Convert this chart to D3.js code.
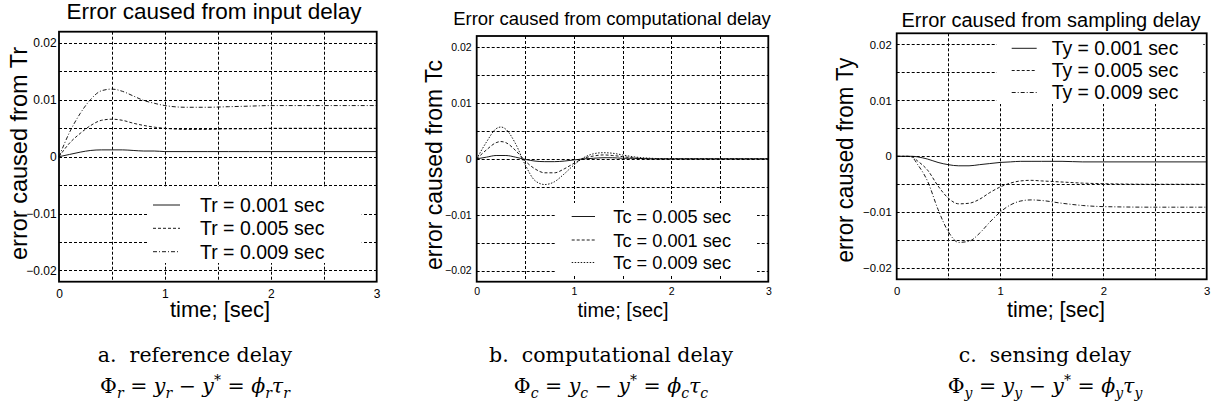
<!DOCTYPE html>
<html>
<head>
<meta charset="utf-8">
<script src="https://cdn.jsdelivr.net/npm/d3@7"></script>
<style>
  body { margin: 0; background: #fff; }
  svg { display: block; font-family: "Liberation Sans", Arial, sans-serif; }
</style>
</head>
<body>
<script>
// ---- data ----

// a. reference delay
var timeR = [0, 0.1, 0.2, 0.3, 0.4, 0.5, 0.6, 0.7, 0.8, 0.9, 1.0, 1.2, 1.4, 1.6, 1.8, 2.0, 2.5, 3.0];
var errTr001 = [0, 0.0004, 0.0008, 0.0011, 0.0012, 0.0012, 0.0012, 0.0011, 0.0010, 0.0010, 0.0009, 0.0009, 0.0009, 0.0009, 0.0009, 0.0009, 0.0009, 0.0009];
var errTr005 = [0, 0.0024, 0.0041, 0.0055, 0.0064, 0.0066, 0.0064, 0.0059, 0.0055, 0.0052, 0.0050, 0.0048, 0.0048, 0.0049, 0.0049, 0.0050, 0.0050, 0.0050];
var errTr009 = [0, 0.0043, 0.0076, 0.0101, 0.0116, 0.0119, 0.0115, 0.0107, 0.0099, 0.0094, 0.0090, 0.0087, 0.0087, 0.0088, 0.0089, 0.0090, 0.0090, 0.0090];
var legendR = ["Tr = 0.001 sec", "Tr = 0.005 sec", "Tr = 0.009 sec"];

// b. computational delay
var timeC = [0, 0.1, 0.2, 0.25, 0.3, 0.4, 0.5, 0.6, 0.7, 0.8, 0.9, 1.0, 1.1, 1.2, 1.3, 1.4, 1.5, 1.6, 1.8, 2.0, 3.0];
var errTcSmall = [0, 0.0003, 0.0006, 0.0006, 0.0006, 0.0003, -0.0001, -0.0004, -0.0005, -0.0005, -0.0004, -0.0002, 0, 0.0001, 0.0002, 0.0002, 0.0001, 0.0001, 0, 0, 0];
var errTcMid = [0, 0.0016, 0.0029, 0.0031, 0.0029, 0.0015, -0.0004, -0.0018, -0.0025, -0.0025, -0.0018, -0.0008, 0.0001, 0.0005, 0.0007, 0.0006, 0.0004, 0.0002, 0, 0, 0];
var errTcBig = [0, 0.0030, 0.0054, 0.0057, 0.0053, 0.0027, -0.0011, -0.0039, -0.0046, -0.0041, -0.0027, -0.0011, 0.0002, 0.0009, 0.0011, 0.0010, 0.0007, 0.0004, 0.0001, 0, 0];
var legendC = ["Tc = 0.005 sec", "Tc = 0.001 sec", "Tc = 0.009 sec"];

// c. sensing delay
var timeY = [0, 0.1, 0.15, 0.2, 0.3, 0.4, 0.5, 0.6, 0.7, 0.8, 0.9, 1.0, 1.1, 1.2, 1.3, 1.4, 1.6, 1.8, 2.0, 2.5, 3.0];
var errTy001 = [0, 0, 0, -0.0001, -0.0005, -0.0011, -0.0015, -0.0017, -0.0017, -0.0015, -0.0013, -0.0011, -0.0010, -0.0009, -0.0009, -0.0009, -0.0009, -0.0010, -0.0010, -0.0010, -0.0010];
var errTy005 = [0, 0, -0.0001, -0.0008, -0.0025, -0.0053, -0.0075, -0.0085, -0.0084, -0.0077, -0.0065, -0.0055, -0.0048, -0.0044, -0.0043, -0.0044, -0.0046, -0.0048, -0.0049, -0.0050, -0.0050];
var errTy009 = [0, 0, -0.0002, -0.0014, -0.0045, -0.0095, -0.0135, -0.0154, -0.0152, -0.0138, -0.0118, -0.0100, -0.0087, -0.0080, -0.0078, -0.0079, -0.0084, -0.0088, -0.0090, -0.0091, -0.0091];
var legendY = ["Ty = 0.001 sec", "Ty = 0.005 sec", "Ty = 0.009 sec"];

// axis ticks and grid
var yTickValues = [-0.02, -0.01, 0, 0.01, 0.02];
var yGridValues = [-0.02, -0.015, -0.01, -0.005, 0, 0.005, 0.01, 0.015, 0.02];
var xTickValues = [0, 1, 2, 3];
var xGridValues = [0.5, 1, 1.5, 2, 2.5];

// ---- layout ----
var width = 1225,
    height = 413;

var svg = d3.select("body")
    .append("svg")
    .attr("width", width)
    .attr("height", height);

svg.append("rect")
    .attr("width", width)
    .attr("height", height)
    .attr("fill", "#fff");

var panels = [
  {
    left: 59, right: 376.7, top: 31.7, bottom: 281.7,
    title: "Error caused from input delay", titleX: 214, titleY: 18.5, titleSize: 22.5,
    yLabel: "error caused from Tr", yLabelX: 27, yLabelY: 153.5, yLabelLen: 213,
    xLabelX: 220, xLabelY: 316.7, xLabelSize: 22,
    tickSize: 12, yPad: 2.3, xPad: 7.8,
    times: timeR,
    series: [errTr001, errTr005, errTr009],
    dashes: [null, "3,2", "4,2,1,2"],
    legend: legendR, legendBox: [148, 187, 361.7, 263], legendLine: [153, 180], legendTextX: 200,
    legendRows: [205, 228.3, 251.7], legendSize: 19.5,
    caption: "a.  reference delay", captionX: 195,
    formula: [["Φ", "n"], ["r", "sub"], [" = ", "n"], ["y", "i"], ["r", "sub"], [" − ", "n"], ["y", "i"], ["*", "sup"], [" = ", "n"], ["ϕ", "i"], ["r", "sub"], ["τ", "i"], ["r", "sub"]]
  },
  {
    left: 476.7, right: 768.3, top: 36, bottom: 281.7,
    title: "Error caused from computational delay", titleX: 612, titleY: 25, titleSize: 18.5,
    yLabel: "error caused from Tc", yLabelX: 442, yLabelY: 165, yLabelLen: 210,
    xLabelX: 623, xLabelY: 317, xLabelSize: 20,
    tickSize: 10.5, yPad: 5, xPad: 5.8,
    times: timeC,
    series: [errTcSmall, errTcMid, errTcBig],
    dashes: [null, "3,2", "1.5,1.5"],
    legend: legendC, legendBox: [555, 203, 757, 276], legendLine: [571.7, 595], legendTextX: 613.3,
    legendRows: [216.5, 240, 262.5], legendSize: 18.2,
    caption: "b.  computational delay", captionX: 611,
    formula: [["Φ", "n"], ["c", "sub"], [" = ", "n"], ["y", "i"], ["c", "sub"], [" − ", "n"], ["y", "i"], ["*", "sup"], [" = ", "n"], ["ϕ", "i"], ["c", "sub"], ["τ", "i"], ["c", "sub"]]
  },
  {
    left: 896.7, right: 1206.7, top: 33.3, bottom: 279.3,
    title: "Error caused from sampling delay", titleX: 1051, titleY: 27, titleSize: 20,
    yLabel: "error caused from Ty", yLabelX: 853, yLabelY: 160, yLabelLen: 205,
    xLabelX: 1056, xLabelY: 316.7, xLabelSize: 21.5,
    tickSize: 11.3, yPad: 5, xPad: 7.7,
    times: timeY,
    series: [errTy001, errTy005, errTy009],
    dashes: [null, "3,2", "4,2,1,2"],
    legend: legendY, legendBox: [996.7, 34, 1203.3, 104], legendLine: [1011.7, 1036.7], legendTextX: 1051.7,
    legendRows: [48.3, 70.5, 92.5], legendSize: 19.4,
    caption: "c.  sensing delay", captionX: 1045,
    formula: [["Φ", "n"], ["y", "sub"], [" = ", "n"], ["y", "i"], ["y", "sub"], [" − ", "n"], ["y", "i"], ["*", "sup"], [" = ", "n"], ["ϕ", "i"], ["y", "sub"], ["τ", "i"], ["y", "sub"]]
  }
];

panels.forEach(drawPanel);

function drawPanel(p){
  var x = d3.scaleLinear().domain([0, 3]).range([p.left, p.right]);
  var y = d3.scaleLinear().domain([-0.022, 0.022]).range([p.bottom, p.top]);

  var g = svg.append("g");

  // dashed grid
  g.selectAll(".hgrid")
      .data(yGridValues)
      .enter()
      .append("line")
      .attr("x1", p.left).attr("x2", p.right)
      .attr("y1", function(d){ return Math.round(y(d)) + 0.5; })
      .attr("y2", function(d){ return Math.round(y(d)) + 0.5; })
      .attr("stroke", "#000").attr("stroke-width", 1)
      .attr("stroke-dasharray", "3,2");

  g.selectAll(".vgrid")
      .data(xGridValues)
      .enter()
      .append("line")
      .attr("y1", p.top).attr("y2", p.bottom)
      .attr("x1", function(d){ return Math.round(x(d)) + 0.5; })
      .attr("x2", function(d){ return Math.round(x(d)) + 0.5; })
      .attr("stroke", "#000").attr("stroke-width", 1)
      .attr("stroke-dasharray", "3,2");

  // legend background hides the grid
  var b = p.legendBox;
  g.append("rect")
      .attr("x", b[0]).attr("y", b[1])
      .attr("width", b[2] - b[0]).attr("height", b[3] - b[1])
      .attr("fill", "#fff");

  // curves
  var line = d3.line()
      .x(function(d){ return x(d[0]); })
      .y(function(d){ return y(d[1]); })
      .curve(d3.curveMonotoneX);

  p.series.forEach(function(vals, i){
    g.append("path")
        .datum(p.times.map(function(t, k){ return [t, vals[k]]; }))
        .attr("d", line)
        .attr("fill", "none")
        .attr("stroke", "#000")
        .attr("stroke-width", 0.9)
        .attr("stroke-dasharray", p.dashes[i]);
  });

  // legend
  p.legend.forEach(function(label, i){
    g.append("line")
        .attr("x1", p.legendLine[0]).attr("x2", p.legendLine[1])
        .attr("y1", p.legendRows[i]).attr("y2", p.legendRows[i])
        .attr("stroke", "#000").attr("stroke-width", 0.9)
        .attr("stroke-dasharray", p.dashes[i]);
    g.append("text")
        .attr("x", p.legendTextX)
        .attr("y", p.legendRows[i])
        .attr("dy", "0.36em")
        .attr("font-size", p.legendSize)
        .text(label);
  });

  // axes frame
  g.append("rect")
      .attr("x", p.left).attr("y", p.top)
      .attr("width", p.right - p.left).attr("height", p.bottom - p.top)
      .attr("fill", "none")
      .attr("stroke", "#000")
      .attr("stroke-width", 1.8);

  // tick labels
  var yAxis = d3.axisLeft(y)
      .tickValues(yTickValues)
      .tickSize(0)
      .tickPadding(p.yPad)
      .tickFormat(function(d){ return d === 0 ? "0" : d3.format(".2f")(d); });

  var yg = g.append("g")
      .attr("transform", "translate(" + p.left + ",0)")
      .call(yAxis);
  yg.select(".domain").remove();
  yg.selectAll("text").attr("font-size", p.tickSize).attr("font-family", null).attr("fill", "#000");

  var xAxis = d3.axisBottom(x)
      .tickValues(xTickValues)
      .tickSize(0)
      .tickPadding(p.xPad)
      .tickFormat(d3.format("d"));

  var xg = g.append("g")
      .attr("transform", "translate(0," + p.bottom + ")")
      .call(xAxis);
  xg.select(".domain").remove();
  xg.selectAll("text").attr("font-size", p.tickSize).attr("font-family", null).attr("fill", "#000");

  // titles and labels
  g.append("text")
      .attr("x", p.titleX).attr("y", p.titleY)
      .attr("text-anchor", "middle")
      .attr("font-size", p.titleSize)
      .text(p.title);

  g.append("text")
      .attr("transform", "translate(" + p.yLabelX + "," + p.yLabelY + ") rotate(-90)")
      .attr("text-anchor", "middle")
      .attr("font-size", 24)
      .attr("textLength", p.yLabelLen)
      .attr("lengthAdjust", "spacingAndGlyphs")
      .text(p.yLabel);

  g.append("text")
      .attr("x", p.xLabelX).attr("y", p.xLabelY)
      .attr("text-anchor", "middle")
      .attr("font-size", p.xLabelSize)
      .text("time; [sec]");

  // caption under the plot
  g.append("text")
      .attr("x", p.captionX).attr("y", 362)
      .attr("text-anchor", "middle")
      .attr("font-family", "'DejaVu Serif', 'Liberation Serif', serif")
      .attr("font-size", 20.5)
      .style("white-space", "pre")
      .text(p.caption);

  var f = g.append("text")
      .attr("x", p.captionX).attr("y", 393)
      .attr("text-anchor", "middle")
      .attr("font-family", "'DejaVu Serif', 'Liberation Serif', serif")
      .attr("font-size", 20.5)
      .style("white-space", "pre");

  var shift = 0;
  p.formula.forEach(function(part){
    var s = f.append("tspan").text(part[0]);
    var target = 0;
    if (part[1] === "sub") { target = 5; s.attr("font-size", 14).attr("font-style", "italic"); }
    else if (part[1] === "sup") { target = -8; s.attr("font-size", 14); }
    else if (part[1] === "i") { s.attr("font-style", "italic"); }
    if (target !== shift) { s.attr("dy", target - shift); shift = target; }
  });
}
</script>
</body>
</html>
